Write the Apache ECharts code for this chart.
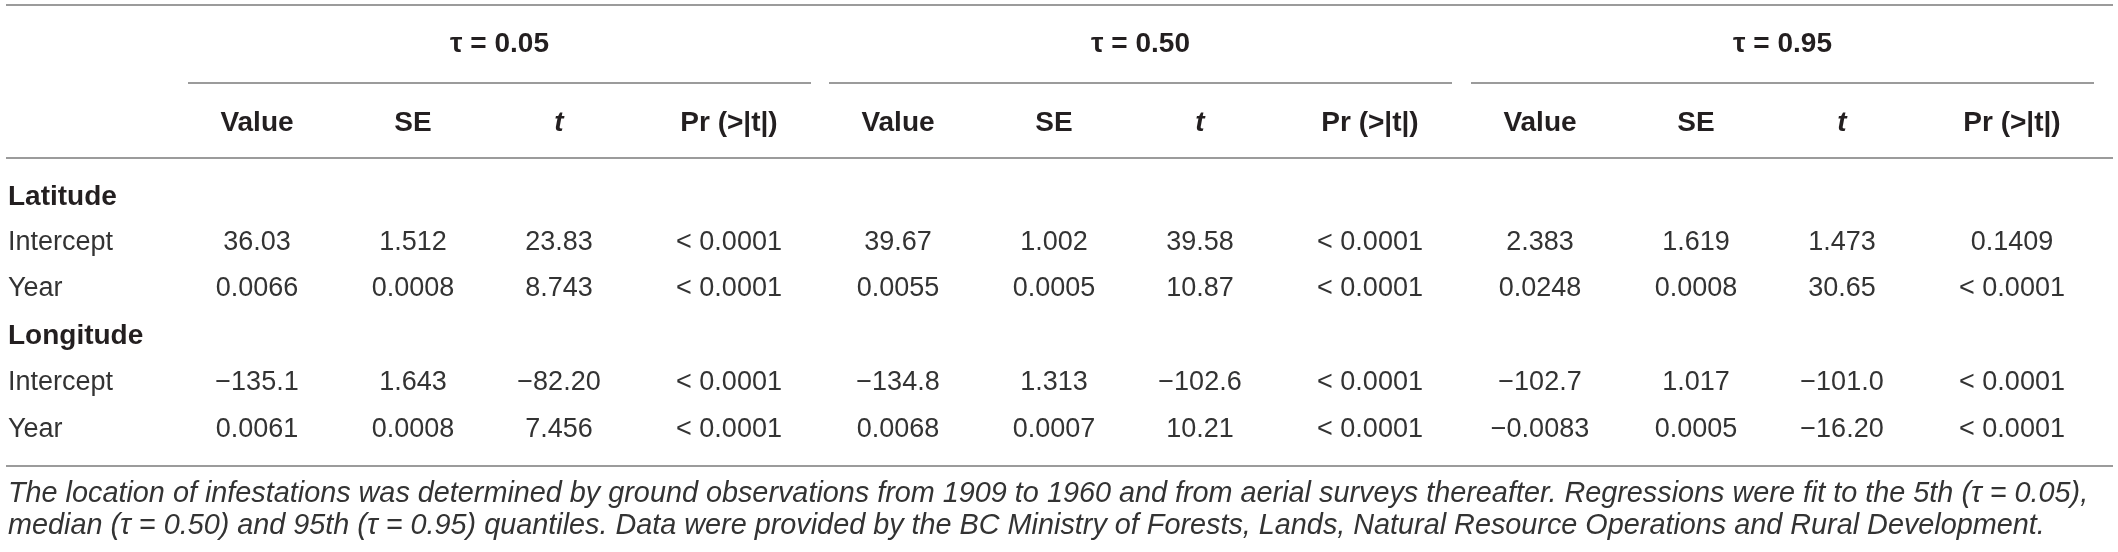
<!DOCTYPE html>
<html>
<head>
<meta charset="utf-8">
<script src="https://cdn.jsdelivr.net/npm/echarts@6/dist/echarts.min.js"></script>
<style>
    html, body { margin: 0; padding: 0; background: #fff; }
    #table { width: 2118px; height: 552px; }
</style>
</head>
<body>
<div id="table"></div>
<script>
; (function () {
    // table contents
    const quantiles = ['τ = 0.05', 'τ = 0.50', 'τ = 0.95'];
    const statLabels = ['Value', 'SE', 't', 'Pr (>|t|)'];
    const sections = ['Latitude', 'Longitude'];
    const terms = ['Intercept', 'Year'];

    // rows: Latitude/Intercept, Latitude/Year, Longitude/Intercept, Longitude/Year
    // p = null means "< 0.0001"
    const value05 = [36.03, 0.0066, -135.1, 0.0061],
        se05 = [1.512, 0.0008, 1.643, 0.0008],
        t05 = [23.83, 8.743, -82.20, 7.456],
        p05 = [null, null, null, null];
    const value50 = [39.67, 0.0055, -134.8, 0.0068],
        se50 = [1.002, 0.0005, 1.313, 0.0007],
        t50 = [39.58, 10.87, -102.6, 10.21],
        p50 = [null, null, null, null];
    const value95 = [2.383, 0.0248, -102.7, -0.0083],
        se95 = [1.619, 0.0008, 1.017, 0.0005],
        t95 = [1.473, 30.65, -101.0, -16.20],
        p95 = [0.1409, null, null, null];

    const footnote = [
        'The location of infestations was determined by ground observations from 1909 to 1960 and from aerial surveys thereafter. Regressions were fit to the 5th (τ = 0.05),',
        'median (τ = 0.50) and 95th (τ = 0.95) quantiles. Data were provided by the BC Ministry of Forests, Lands, Natural Resource Operations and Rural Development.'
    ];

    const stats = [
        [value05, se05, t05, p05],
        [value50, se50, t50, p50],
        [value95, se95, t95, p95]
    ];

    // layout (page pixels)
    const W = 2118, H = 552;
    const colBase = [257, 413, 559, 729];
    const groupOffset = [0, 641, 1283];
    const groupSpan = [188, 811];
    const lineSpan = [6, 2113];
    const labelX = 8;
    const groupY = 44, headY = 123;
    const bodyY = [197, 243, 289, 336, 383, 430];
    const noteY = [494, 526];
    const ruleY = { top: 5, group: 83, head: 158, bottom: 466 };

    const FONT = '"Liberation Sans", Arial, Helvetica, sans-serif';
    const styles = {
        head: { fontSize: 28, fontWeight: 'bold', fontStyle: 'normal', fill: '#231f20' },
        headItalic: { fontSize: 28, fontWeight: 'bold', fontStyle: 'italic', fill: '#231f20' },
        section: { fontSize: 28, fontWeight: 'bold', fontStyle: 'normal', fill: '#231f20' },
        cell: { fontSize: 27, fontWeight: 'normal', fontStyle: 'normal', fill: '#333' },
        note: { fontSize: 28.8, fontWeight: 'normal', fontStyle: 'italic', fill: '#333' }
    };

    function fmtNum(v) {
        const a = Math.abs(v);
        const s = a < 0.1 ? a.toFixed(4) : a.toPrecision(4);
        return (v < 0 ? '−' : '') + s;
    }

    function fmtP(p) {
        return p == null ? '< 0.0001' : p.toFixed(4);
    }

    const cells = [],
        rules = [];

    init();

    function init() {
        buildCells();
        buildRules();
        render();
    }

    function buildCells() {
        quantiles.forEach((q, g) => {
            cells.push({ x: (groupSpan[0] + groupSpan[1]) / 2 + groupOffset[g], y: groupY, text: q, kind: 'head', align: 'center' });
            statLabels.forEach((s, c) => {
                cells.push({ x: colBase[c] + groupOffset[g], y: headY, text: s, kind: s === 't' ? 'headItalic' : 'head', align: 'center' });
            });
        });

        sections.forEach((sec, si) => {
            cells.push({ x: labelX, y: bodyY[si * 3], text: sec, kind: 'section', align: 'left' });
            terms.forEach((term, ti) => {
                const r = si * 2 + ti,
                    y = bodyY[si * 3 + 1 + ti];
                cells.push({ x: labelX, y: y, text: term, kind: 'cell', align: 'left' });
                stats.forEach((grp, g) => {
                    grp.forEach((arr, c) => {
                        const txt = c === 3 ? fmtP(arr[r]) : fmtNum(arr[r]);
                        cells.push({ x: colBase[c] + groupOffset[g], y: y, text: txt, kind: 'cell', align: 'center' });
                    });
                });
            });
        });

        footnote.forEach((line, i) => {
            cells.push({ x: labelX, y: noteY[i], text: line, kind: 'note', align: 'left' });
        });
    }

    function buildRules() {
        rules.push([lineSpan[0], lineSpan[1], ruleY.top]);
        groupOffset.forEach(off => {
            rules.push([groupSpan[0] + off, groupSpan[1] + off, ruleY.group]);
        });
        rules.push([lineSpan[0], lineSpan[1], ruleY.head]);
        rules.push([lineSpan[0], lineSpan[1], ruleY.bottom]);
    }

    function render() {
        const chart = echarts.init(document.getElementById('table'));
        const option = {
            animation: false,
            grid: { left: 0, right: 0, top: 0, bottom: 0 },
            xAxis: { type: 'value', min: 0, max: W, show: false },
            yAxis: { type: 'value', min: 0, max: H, inverse: true, show: false },
            series: [
                {
                    type: 'custom',
                    silent: true,
                    data: rules,
                    renderItem: function (params, api) {
                        const a = api.coord([api.value(0), api.value(2)]),
                            b = api.coord([api.value(1), api.value(2)]);
                        return {
                            type: 'line',
                            shape: { x1: a[0], y1: a[1], x2: b[0], y2: b[1] },
                            style: { stroke: '#7a7a7a', lineWidth: 1.6 }
                        };
                    }
                },
                {
                    type: 'custom',
                    silent: true,
                    data: cells.map(c => [c.x, c.y]),
                    renderItem: function (params, api) {
                        const c = cells[params.dataIndex],
                            st = styles[c.kind],
                            p = api.coord([api.value(0), api.value(1)]);
                        return {
                            type: 'text',
                            x: p[0],
                            y: p[1],
                            style: {
                                text: c.text,
                                fontFamily: FONT,
                                fontSize: st.fontSize,
                                fontWeight: st.fontWeight,
                                fontStyle: st.fontStyle,
                                fill: st.fill,
                                align: c.align,
                                verticalAlign: 'middle'
                            }
                        };
                    }
                }
            ]
        };
        chart.setOption(option);
    }
})()
</script>
</body>
</html>
